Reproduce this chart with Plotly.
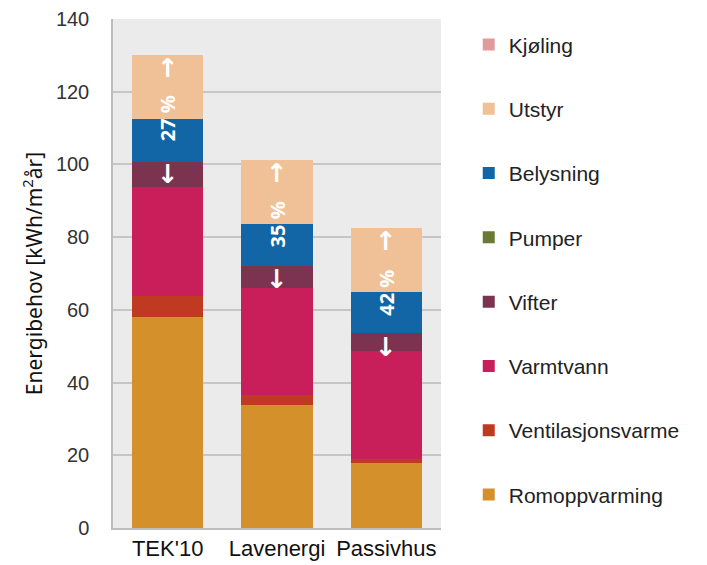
import plotly.graph_objects as go
import numpy as np

# Building standards compared
categories = ["TEK'10", "Lavenergi", "Passivhus"]

# Energy demand per post, kWh/m² per year (stacked bottom to top)
romoppvarming = [58.0, 33.8, 17.8]
ventilasjonsvarme = [5.8, 2.8, 1.1]
varmtvann = [30.1, 29.3, 29.8]
vifter = [6.7, 6.2, 4.8]
pumper = [0.0, 0.0, 0.0]
belysning = [12.0, 11.4, 11.3]
utstyr = [17.4, 17.6, 17.6]
kjoling = [0.0, 0.0, 0.0]

# Share of electricity-specific demand shown on each bar
share_labels = ["27 %", "35 %", "42 %"]

y_ticks = [0, 20, 40, 60, 80, 100, 120, 140]

series = [
    ("Romoppvarming", romoppvarming, "#D4912B"),
    ("Ventilasjonsvarme", ventilasjonsvarme, "#C03A22"),
    ("Varmtvann", varmtvann, "#C81F5A"),
    ("Vifter", vifter, "#7B3350"),
    ("Pumper", pumper, "#6B7A33"),
    ("Belysning", belysning, "#1266A5"),
    ("Utstyr", utstyr, "#F0C196"),
    ("Kjøling", kjoling, "#E09C9C"),
]

fig = go.Figure()
for i, (name, vals, color) in enumerate(series):
    fig.add_trace(go.Bar(
        x=categories, y=vals, name=name,
        marker=dict(color=color, line=dict(width=0)),
        legendgroup=f"g{i}",
        legendrank=100 - i,  # top of the stack listed first
    ))

# Label anchor: top of the Belysning segment
stack_below_utstyr = np.sum([romoppvarming, ventilasjonsvarme, varmtvann,
                             vifter, pumper, belysning], axis=0)

annotations = []
for cat, y0, lab in zip(categories, stack_below_utstyr, share_labels):
    annotations.append(dict(
        x=cat, y=float(y0), text=lab, textangle=-90, showarrow=False,
        font=dict(family="Noto Sans", size=20, color="white", weight="bold"),
        xanchor="center", yanchor="middle",
    ))
    annotations.append(dict(
        x=cat, y=float(y0), text="↑", showarrow=False, yshift=51,
        font=dict(family="DejaVu Sans", size=26, color="white", weight="bold"),
        xanchor="center", yanchor="middle",
    ))
    annotations.append(dict(
        x=cat, y=float(y0), text="↓", showarrow=False, yshift=-55,
        font=dict(family="DejaVu Sans", size=26, color="white", weight="bold"),
        xanchor="center", yanchor="middle",
    ))

fig.update_layout(
    width=707, height=565,
    margin=dict(l=113, r=266, t=19, b=37),
    barmode="stack", bargap=0.35,
    paper_bgcolor="white", plot_bgcolor="#EBEBEB",
    font=dict(family="Liberation Sans, Arial, sans-serif", size=20, color="#222"),
    annotations=annotations,
    legend=dict(
        xref="container", yref="container", x=0.663, y=0.957,
        xanchor="left", yanchor="top",
        traceorder="grouped", tracegroupgap=34, maxheight=560,
        font=dict(family="Liberation Sans, Arial, sans-serif", size=21, color="#222"),
        bgcolor="rgba(0,0,0,0)",
    ),
    showlegend=True,
)

fig.update_yaxes(
    range=[0, 140], tickvals=y_ticks, showgrid=True, gridcolor="#C6C6C6", gridwidth=1.5,
    showline=True, linecolor="#BDBDBD", linewidth=1.5, zeroline=False,
    ticks="", ticklabelstandoff=18, automargin=False,
    tickfont=dict(family="Liberation Sans, Arial, sans-serif", size=20, color="#333"),
    title=dict(text="Energibehov [kWh/m<sup>2</sup>år]", standoff=8,
               font=dict(family="Noto Sans, sans-serif", size=21, color="#111")),
)
fig.update_xaxes(
    showline=True, linecolor="#BDBDBD", linewidth=1.5, ticks="", automargin=False,
    tickfont=dict(family="Liberation Sans, Arial, sans-serif", size=22, color="#111"),
)

fig.write_html("out.html")
